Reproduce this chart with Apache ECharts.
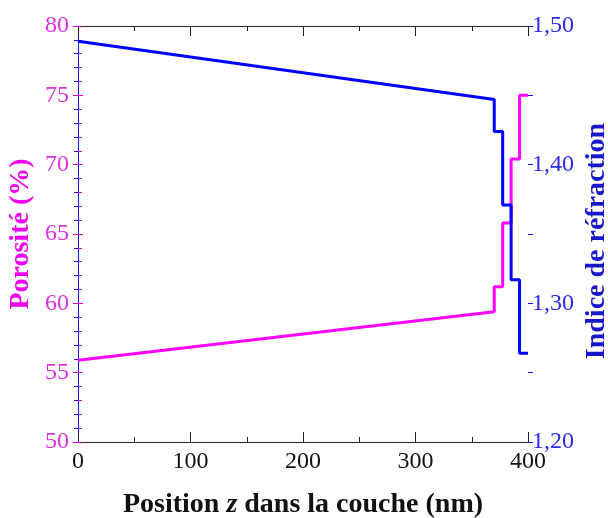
<!DOCTYPE html>
<html>
<head>
<meta charset="utf-8">
<script src="https://cdn.jsdelivr.net/npm/echarts@6/dist/echarts.min.js"></script>
<style>html,body{margin:0;padding:0;background:#fff}#c{width:608px;height:518px}</style>
</head>
<body>
<div id="c"></div>
<script>
// Layer boundaries (nm): end of gradient layer, then the 4 step sub-layers
const zLayerEdges = [370, 377.5, 385, 392.5, 400];
// Porosity (%) : gradient from z=0 to first edge, then steps
const porosityGradient = [55.9, 59.4];
const porositySteps = [61.2, 65.8, 70.4, 75.0];
// Refractive index : gradient then steps
const indexGradient = [1.489, 1.447];
const indexSteps = [1.424, 1.371, 1.317, 1.264];
// Axis ticks
const xTicks = [0, 100, 200, 300, 400];
const porosityTicks = [50, 55, 60, 65, 70, 75, 80];
const indexTicks = [1.20, 1.30, 1.40, 1.50];
// Titles
const xTitle = '{a|Position }{i|z}{a| dans la couche (nm)}';
const yLeftTitle = 'Porosité (%)';
const yRightTitle = 'Indice de réfraction';

function buildProfile(grad, steps) {
  const pts = [[0, grad[0]], [zLayerEdges[0], grad[1]]];
  for (let i = 0; i < steps.length; i++) {
    pts.push([zLayerEdges[i], steps[i]]);
    pts.push([zLayerEdges[i + 1], steps[i]]);
  }
  return pts;
}

const FONT = "'Liberation Serif', 'DejaVu Serif', serif";
const MAG = '#ff00ff';
const MAG_AX = '#dd00dd';
const MAG_LBL = '#dd33dd';
const BLUE = '#0000ff';
const BLUE_AX = '#1010ee';
const BLUE_LBL = '#2a2ae6';

const chart = echarts.init(document.getElementById('c'), null, {renderer: 'canvas'});
const xMin = xTicks[0], xMax = xTicks[xTicks.length - 1];
const pMin = porosityTicks[0], pMax = porosityTicks[porosityTicks.length - 1];
const nMin = indexTicks[0], nMax = indexTicks[indexTicks.length - 1];

const xCommon = {
  type: 'value', min: xMin, max: xMax, interval: 100,
  splitLine: {show: false},
  axisLine: {show: true, lineStyle: {color: '#222', width: 1}},
  axisTick: {show: true, inside: true, length: 10, lineStyle: {color: '#222'}},
  minorTick: {show: true, splitNumber: 2, length: 5, lineStyle: {color: '#222'}}
};

chart.setOption({
  animation: false,
  grid: {left: 78, right: 80, top: 26, bottom: 76, containLabel: false, outerBoundsMode: 'none'},
  graphic: [
    {
      type: 'text', x: 303, y: 505,
      style: {
        text: xTitle, align: 'center', verticalAlign: 'middle',
        rich: {
          a: {fontFamily: FONT, fontSize: 28, fontWeight: 'bold', fill: '#111'},
          i: {fontFamily: FONT, fontSize: 28, fontWeight: 'bold', fontStyle: 'italic', fill: '#111'}
        }
      }
    },
    {
      type: 'text', x: 21, y: 234, rotation: Math.PI / 2,
      style: {text: yLeftTitle, align: 'center', verticalAlign: 'middle',
        fontFamily: FONT, fontSize: 28, fontWeight: 'bold', fill: '#ee00ee'}
    },
    {
      type: 'text', x: 597, y: 241, rotation: Math.PI / 2,
      style: {text: yRightTitle, align: 'center', verticalAlign: 'middle',
        fontFamily: FONT, fontSize: 28, fontWeight: 'bold', fill: '#1818c8'}
    }
  ],
  xAxis: [
    Object.assign({}, xCommon, {
      position: 'bottom',
      axisLabel: {color: '#111', fontFamily: FONT, fontSize: 24, margin: 8}
    }),
    Object.assign({}, xCommon, {position: 'top', axisLabel: {show: false}})
  ],
  yAxis: [
    {
      type: 'value', position: 'left', min: pMin, max: pMax, interval: 5,
      splitLine: {show: false},
      axisLine: {show: true, lineStyle: {color: MAG_AX, width: 1}},
      axisTick: {show: true, inside: true, length: 5, lineStyle: {color: MAG_AX}},
      minorTick: {show: true, splitNumber: 5, length: 4, lineStyle: {color: MAG_AX}},
      axisLabel: {color: MAG_LBL, fontFamily: FONT, fontSize: 24, margin: 9}
    },
    {
      type: 'value', position: 'right', min: nMin, max: nMax, interval: 0.05,
      splitLine: {show: false},
      axisLine: {show: true, lineStyle: {color: BLUE_AX, width: 1}},
      axisTick: {show: true, inside: true, length: 5, lineStyle: {color: BLUE_AX}},
      minorTick: {show: true, splitNumber: 5, length: 4, lineStyle: {color: BLUE_AX}},
      axisLabel: {
        color: BLUE_LBL, fontFamily: FONT, fontSize: 24, margin: 4,
        formatter: function (v) {
          const t = Math.round(v * 100) / 100;
          if (Math.abs(t * 10 - Math.round(t * 10)) > 1e-6) return '';
          return t.toFixed(2).replace('.', ',');
        }
      }
    },
    {
      type: 'value', position: 'left', min: pMin, max: pMax, interval: 5,
      splitLine: {show: false}, axisLine: {show: false},
      axisTick: {show: true, inside: false, length: 5, lineStyle: {color: MAG_AX}},
      axisLabel: {show: false}
    },
    {
      type: 'value', position: 'right', min: nMin, max: nMax, interval: 0.05,
      splitLine: {show: false}, axisLine: {show: false},
      axisTick: {show: true, inside: false, length: 5, lineStyle: {color: BLUE_AX}},
      axisLabel: {show: false}
    }
  ],
  series: [
    {
      name: 'Porosité', type: 'line', xAxisIndex: 0, yAxisIndex: 0,
      data: buildProfile(porosityGradient, porositySteps),
      showSymbol: false, symbol: 'none',
      lineStyle: {color: MAG, width: 3}, itemStyle: {color: MAG}
    },
    {
      name: 'Indice', type: 'line', xAxisIndex: 0, yAxisIndex: 1,
      data: buildProfile(indexGradient, indexSteps),
      showSymbol: false, symbol: 'none',
      lineStyle: {color: BLUE, width: 3}, itemStyle: {color: BLUE}
    }
  ]
});
</script>
</body>
</html>
